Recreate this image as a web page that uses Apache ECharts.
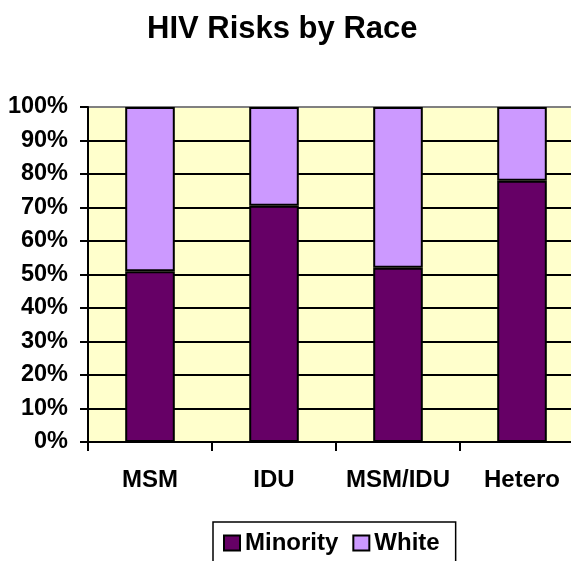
<!DOCTYPE html>
<html>
<head>
<meta charset="utf-8">
<script src="https://cdn.jsdelivr.net/npm/echarts@6/dist/echarts.min.js"></script>
<style>
  html, body { margin: 0; padding: 0; background: #fff; }
  #main { width: 571px; height: 561px; }
</style>
</head>
<body>
<div id="main"></div>
<script>
// risk groups and share by race (%)
var groups = ['MSM', 'IDU', 'MSM/IDU', 'Hetero'];
var minority = [51, 70.5, 52, 78];
var white = [49, 29.5, 48, 22];

var font = 'Arial, "Liberation Sans", sans-serif';

var myChart = echarts.init(document.getElementById('main'));

// top grid line is grey, the rest black
var splitColors = [];
for (var i = 0; i < 10; i++) splitColors.push('#000');
splitColors.push('#808080');

var option = {
    animation: false,
    title: {
        text: 'HIV Risks by Race',
        left: 142,
        top: 9,
        textStyle: { fontFamily: font, fontSize: 31, fontWeight: 'bold', color: '#000' }
    },
    legend: {
        data: ['Minority', 'White'],
        left: 213,
        top: 522,
        orient: 'horizontal',
        padding: [9, 16, 20, 10],
        itemGap: 14,
        itemWidth: 16,
        itemHeight: 15,
        icon: 'rect',
        borderColor: '#000',
        borderWidth: 1.5,
        textStyle: { fontFamily: font, fontSize: 24, fontWeight: 'bold', color: '#000', padding: [0, 0, 0, 0] }
    },
    grid: {
        left: 88,
        width: 496,
        top: 107,
        bottom: 119,
        outerBoundsMode: 'none',
        show: true,
        backgroundColor: '#FFFFCC',
        borderColor: '#808080',
        borderWidth: 1
    },
    xAxis: {
        type: 'category',
        data: groups,
        axisLine: { lineStyle: { color: '#000', width: 2 } },
        axisTick: { show: true, interval: 0, length: 9, lineStyle: { color: '#000', width: 2 } },
        axisLabel: { interval: 0, margin: 26, fontFamily: font, fontSize: 24, fontWeight: 'bold', color: '#000' }
    },
    yAxis: {
        type: 'value',
        min: 0,
        max: 100,
        interval: 10,
        axisLine: { show: true, lineStyle: { color: '#000', width: 2 } },
        axisTick: { show: true, length: 8, lineStyle: { color: '#000', width: 2 } },
        axisLabel: { margin: 20, formatter: '{value}%', fontFamily: font, fontSize: 23.5, fontWeight: 'bold', color: '#000' },
        splitLine: { lineStyle: { color: splitColors, width: 2 } }
    },
    series: [
        {
            name: 'Minority',
            type: 'bar',
            stack: 'race',
            barWidth: '40%',
            data: minority,
            itemStyle: { color: '#660066', borderColor: '#000', borderWidth: 2 }
        },
        {
            name: 'White',
            type: 'bar',
            stack: 'race',
            barWidth: '40%',
            data: white,
            itemStyle: { color: '#CC99FF', borderColor: '#000', borderWidth: 2 }
        }
    ]
};

myChart.setOption(option);
</script>
</body>
</html>
